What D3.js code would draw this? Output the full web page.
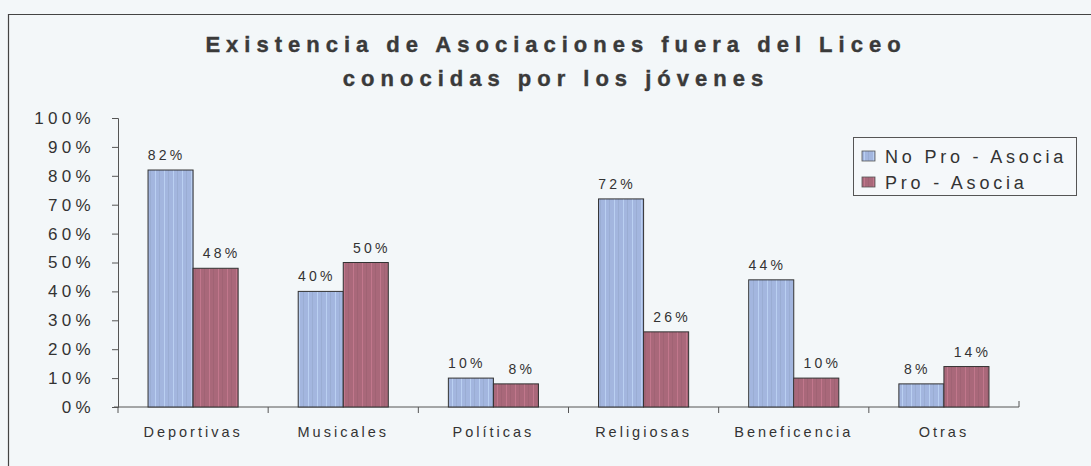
<!DOCTYPE html>
<html><head><meta charset="utf-8">
<script src="https://cdn.jsdelivr.net/npm/d3@7"></script>
<style>
html,body{margin:0;padding:0;background:#f3f7f9;}
svg{display:block;}
text{font-family:"Liberation Sans",Arial,sans-serif;fill:#333;}
</style></head>
<body><svg id="c" width="1091" height="466"></svg>
<script>
const titleLines = ["Existencia de Asociaciones fuera del Liceo", "conocidas por los jóvenes"];
const categories = ["Deportivas", "Musicales", "Políticas", "Religiosas", "Beneficencia", "Otras"];
const seriesNames = ["No Pro - Asocia", "Pro - Asocia"];
const noProAsocia = [82, 40, 10, 72, 44, 8];
const proAsocia = [48, 50, 8, 26, 10, 14];
const yTicks = [0, 10, 20, 30, 40, 50, 60, 70, 80, 90, 100];

const series = [noProAsocia, proAsocia];
const colors = ["#a3b6df", "#a9687a"];

const svg = d3.select("#c");
const W = 1091, H = 466;
const m = {left: 118, right: 72, top: 118, bottom: 59};

// background and frame
svg.append("rect").attr("width", W).attr("height", H).attr("fill", "#f3f7f9");
svg.append("path").attr("d", `M8.5,${H} L8.5,14.5 L${W},14.5`).attr("fill", "none").attr("stroke", "#444").attr("stroke-width", 1.2);

// patterns
const defs = svg.append("defs");
colors.forEach((c, i) => {
  const p = defs.append("pattern").attr("id", "pat" + i).attr("patternUnits", "userSpaceOnUse")
    .attr("width", 9).attr("height", 4);
  p.append("rect").attr("width", 9).attr("height", 4).attr("fill", c);
  p.append("rect").attr("x", 2).attr("width", 1).attr("height", 4).attr("fill", d3.color(c).brighter(0.6)).attr("opacity", 0.6);
  p.append("rect").attr("x", 6).attr("width", 1).attr("height", 4).attr("fill", d3.color(c).darker(0.3)).attr("opacity", 0.5);
});

// title
svg.append("g").selectAll("text").data(titleLines).join("text")
  .attr("x", 556).attr("y", (d, i) => 52 + i * 34)
  .attr("text-anchor", "middle")
  .style("font-size", "22px").style("font-weight", "bold").style("letter-spacing", "6px")
  .style("fill", "#3a3a3a").style("stroke", "#3a3a3a").style("stroke-width", "0.4px")
  .text(d => d);

const x0 = d3.scaleBand().domain(categories).range([m.left, W - m.right]).paddingInner(0.4).paddingOuter(0.2);
const x1 = d3.scaleBand().domain([0, 1]).range([0, x0.bandwidth()]);
const y = d3.scaleLinear().domain([0, 100]).range([H - m.bottom, m.top]);

// y axis
const yAxis = svg.append("g").attr("transform", `translate(${m.left},0)`)
  .call(d3.axisLeft(y).tickValues(yTicks).tickFormat(d => d + "%").tickSize(6).tickPadding(17));
yAxis.select(".domain").attr("stroke", "#555");
yAxis.selectAll(".tick line").attr("stroke", "#555");
yAxis.selectAll("text").style("font-size", "17px").style("letter-spacing", "4.3px").style("fill", "#333");

// x axis
const xBoundary = d3.scaleLinear().domain([0, categories.length]).range([m.left, W - m.right]);
const xg = svg.append("g").attr("transform", `translate(0,${H - m.bottom})`);
xg.append("line").attr("x1", m.left - 4).attr("x2", W - m.right).attr("stroke", "#555");
xg.selectAll("line.tk").data(d3.range(categories.length + 1)).join("line").attr("class", "tk")
  .attr("x1", d => xBoundary(d)).attr("x2", d => xBoundary(d)).attr("y1", 0).attr("y2", d => d === categories.length ? -6 : 6)
  .attr("stroke", "#555");
xg.selectAll("text").data(categories).join("text")
  .attr("x", d => x0(d) + x0.bandwidth() / 2).attr("y", 30)
  .attr("text-anchor", "middle")
  .style("font-size", "14.5px").style("letter-spacing", "3px").style("fill", "#333")
  .text(d => d);

// bars
const g = svg.append("g");
categories.forEach((c, ci) => {
  series.forEach((s, si) => {
    const bx = x0(c) + x1(si), bw = x1.bandwidth(), by = y(s[ci]);
    g.append("rect").attr("x", bx).attr("y", by).attr("width", bw).attr("height", y(0) - by)
      .attr("fill", `url(#pat${si})`).attr("stroke", "#333").attr("stroke-width", 1);
    g.append("text").attr("x", bx + bw / 2 + (si === 0 ? -4 : 6)).attr("y", by - 10)
      .attr("text-anchor", "middle")
      .style("font-size", "14px").style("letter-spacing", "3.2px").style("fill", "#333")
      .text(s[ci] + "%");
  });
});

// legend
const lg = svg.append("g").attr("transform", "translate(853,137)");
lg.append("rect").attr("x", 0.5).attr("y", 0.5).attr("width", 223).attr("height", 58)
  .attr("fill", "#f5f8fa").attr("stroke", "#555");
seriesNames.forEach((n, i) => {
  lg.append("rect").attr("x", 9).attr("y", 14 + i * 26).attr("width", 13).attr("height", 10)
    .attr("fill", `url(#pat${i})`).attr("stroke", "#555").attr("stroke-width", 0.8);
  lg.append("text").attr("x", 32).attr("y", 26 + i * 26)
    .style("font-size", "18px").style("letter-spacing", "3.8px").style("fill", "#333").text(n);
});
</script></body></html>
